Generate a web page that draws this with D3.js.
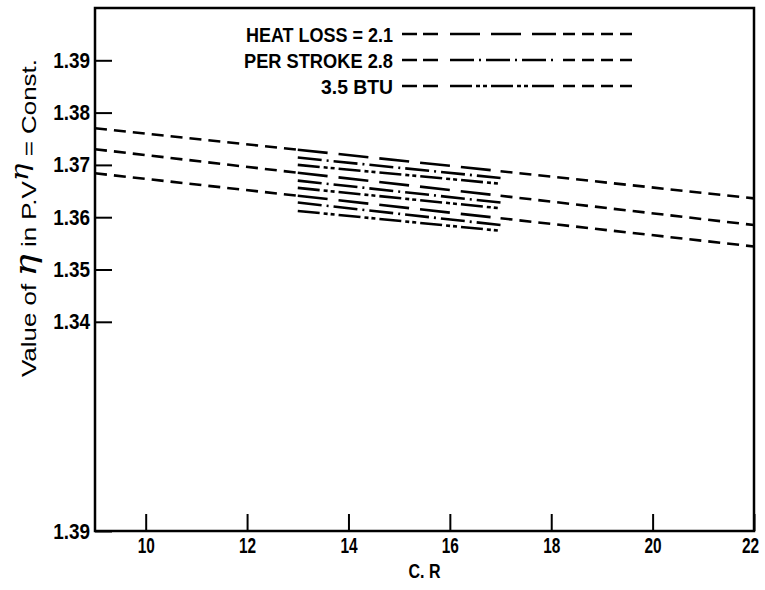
<!DOCTYPE html>
<html><head><meta charset="utf-8">
<script src="https://cdn.jsdelivr.net/npm/d3@7"></script>
<style>body{margin:0;background:#fff}</style>
</head><body><svg id="c" width="765" height="590"></svg>
<script>
// ---- data ----
const xDomain = [9, 22];
const yDomain = [1.30, 1.40];
const xTicks = [10, 12, 14, 16, 18, 20, 22];
const yTicks = [1.30, 1.34, 1.35, 1.36, 1.37, 1.38, 1.39];
const yTickLabels = ["1.39", "1.34", "1.35", "1.36", "1.37", "1.38", "1.39"];
const extX = [9, 13, 17, 22];
const lineA = [1.3770, 1.3729, 1.3688, 1.3636];
const lineB = [1.3730, 1.3685, 1.3641, 1.3585];
const lineC = [1.3684, 1.3641, 1.3598, 1.3544];
const clusterX = [13, 17];
const heat21 = [[1.3729, 1.3688], [1.3685, 1.3641], [1.3641, 1.3598]];
const heat28 = [[1.3714, 1.3675], [1.3670, 1.3628], [1.3628, 1.3585]];
const heat35 = [[1.3700, 1.3664], [1.3656, 1.3617], [1.3612, 1.3574]];
const legendLabels = ["HEAT LOSS = 2.1", "PER STROKE 2.8", "3.5 BTU"];

// ---- styles ----
const FONT = "'Liberation Sans',Arial,sans-serif";
const dashShort = "12,7";
const dashStyles = ["30,11", "24,5,2,5", "22,4,4,3,4,4"];
const W = 2.6;

function fit(sel, target) {
  sel.attr("textLength", target).attr("lengthAdjust", "spacingAndGlyphs");
}
function squeeze(sel, k) {
  sel.each(function () {
    const L = this.getComputedTextLength();
    this.setAttribute("textLength", L * k);
    this.setAttribute("lengthAdjust", "spacingAndGlyphs");
  });
}

const svg = d3.select("#c");
const x = d3.scaleLinear().domain(xDomain).range([95, 754]);
const y = d3.scaleLinear().domain(yDomain).range([531, 8]);

// frame
svg.append("rect")
  .attr("x", x(xDomain[0])).attr("y", y(yDomain[1]))
  .attr("width", x(xDomain[1]) - x(xDomain[0]))
  .attr("height", y(yDomain[0]) - y(yDomain[1]))
  .attr("fill", "none").attr("stroke", "#000").attr("stroke-width", 2.5);

// axes
const gx = svg.append("g").attr("transform", `translate(0,${y(yDomain[0])})`)
  .call(d3.axisBottom(x).tickValues(xTicks).tickSize(-17).tickPadding(6));
const gy = svg.append("g").attr("transform", `translate(${x(xDomain[0])},0)`)
  .call(d3.axisLeft(y).tickValues(yTicks).tickSize(-17).tickPadding(5)
    .tickFormat((d, i) => yTickLabels[i]));
[gx, gy].forEach(g => {
  g.select(".domain").remove();
  g.selectAll(".tick line").attr("stroke", "#000").attr("stroke-width", 2);
  g.selectAll(".tick text").attr("fill", "#000")
    .style("font-family", FONT).style("font-size", "22px").style("font-weight", "bold");
});
squeeze(gx.selectAll(".tick text"), 0.7);
squeeze(gy.selectAll(".tick text"), 0.86);
gx.selectAll(".tick text").filter(d => d === xDomain[1]).attr("dx", -4);

const line = d3.line().x(d => x(d[0])).y(d => y(d[1]));
function draw(pts, dash) {
  svg.append("path").attr("d", line(pts)).attr("fill", "none")
    .attr("stroke", "#000").attr("stroke-width", W).attr("stroke-dasharray", dash);
}

// extended dashed lines
[lineA, lineB, lineC].forEach(vals => {
  draw([[extX[0], vals[0]], [extX[1], vals[1]]], dashShort);
  draw([[extX[2], vals[2]], [extX[3], vals[3]]], dashShort);
});

// cluster
[heat21, heat28, heat35].forEach((series, si) => {
  series.forEach(v => draw(clusterX.map((cx, i) => [cx, v[i]]), dashStyles[si]));
});

// legend
const legRows = [34, 60, 86];
const legWidths = [147, 149, 72];
legendLabels.forEach((t, i) => {
  const ly = legRows[i];
  const tx = svg.append("text").attr("x", 393).attr("y", ly + 8).attr("text-anchor", "end")
    .style("font-family", FONT).style("font-size", "21px").style("font-weight", "bold")
    .text(t);
  fit(tx, legWidths[i]);
  const seg = (a, b, dash) => svg.append("line").attr("x1", a).attr("x2", b)
    .attr("y1", ly).attr("y2", ly).attr("stroke", "#000").attr("stroke-width", W)
    .attr("stroke-dasharray", dash);
  seg(402, 438, "15,6");
  seg(450, 556, dashStyles[i]);
  seg(563, 638, dashShort);
});

// axis titles
const xt = svg.append("text").attr("x", x(15.5)).attr("y", 578).attr("text-anchor", "middle")
  .style("font-family", FONT).style("font-size", "21px").style("font-weight", "bold")
  .text("C. R");
fit(xt, 32);

const yt = svg.append("text").attr("transform", "translate(36,218) rotate(-90)")
  .attr("text-anchor", "middle")
  .style("font-family", FONT).style("font-size", "21px").style("font-weight", "normal");
yt.append("tspan").text("Value of ");
yt.append("tspan").style("font-size", "30px").style("font-style", "italic")
  .style("font-family", "'DejaVu Serif',serif").text("η");
yt.append("tspan").text("   in P.V");
yt.append("tspan").attr("dy", -8).style("font-size", "24px").style("font-style", "italic")
  .style("font-family", "'DejaVu Serif',serif").text("η");
yt.append("tspan").attr("dy", 8).text(" = Const.");
fit(yt, 318);
</script>
</body></html>
